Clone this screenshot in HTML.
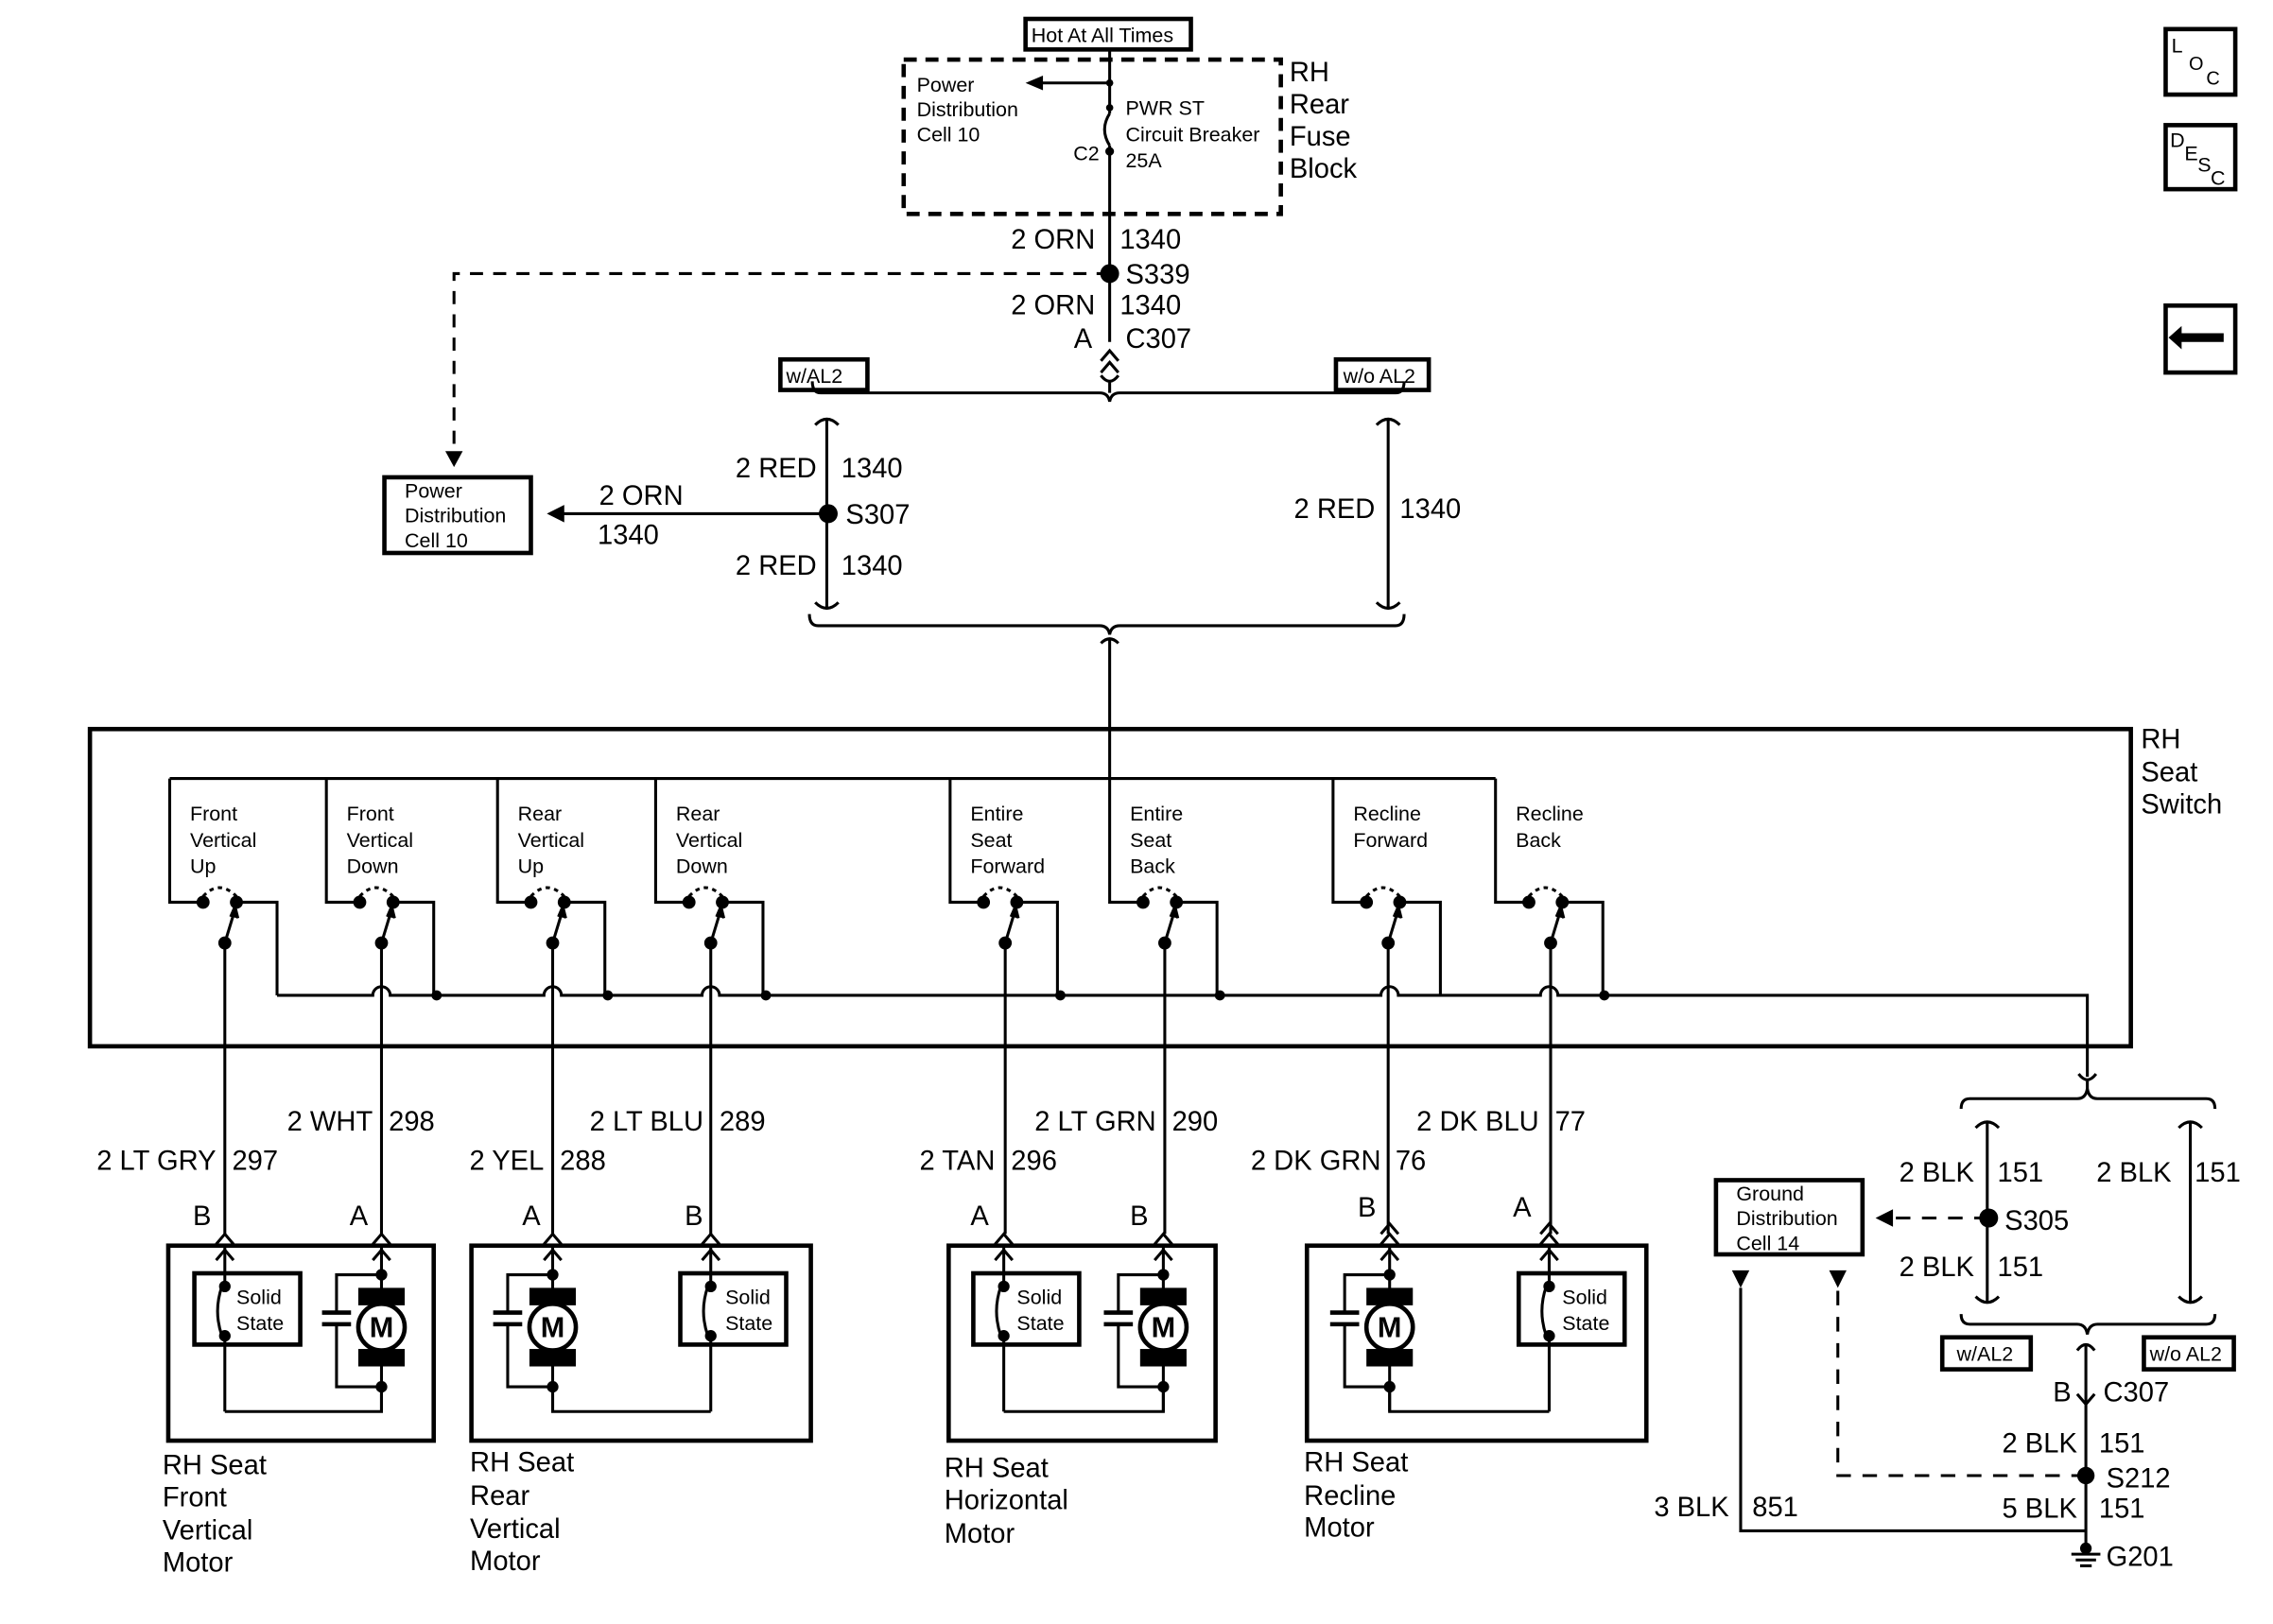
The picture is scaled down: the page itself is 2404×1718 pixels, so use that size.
<!DOCTYPE html>
<html><head><meta charset="utf-8"><style>
html,body{margin:0;padding:0;background:#fff}
svg{display:block}
text{font-family:"Liberation Sans",Arial,sans-serif;fill:#000}
.b{font-size:19px}.s{font-size:14px}
</style></head><body>
<svg width="2404" height="1718" viewBox="0 0 1567 1116" preserveAspectRatio="none" xmlns="http://www.w3.org/2000/svg">
<defs>
<g id="sw" fill="none" stroke="#000" stroke-width="2">
 <path d="M0 535V620H23"/>
 <path d="M23 616Q34 604 46 616" stroke-dasharray="3 3"/>
 <path d="M46 620H74V684"/>
 <path d="M38 648L45 625"/>
 <path d="M38 648V848"/>
 <circle cx="23" cy="620" r="3.5" fill="#000"/>
 <circle cx="46" cy="620" r="3.5" fill="#000"/>
 <circle cx="38" cy="648" r="3.5" fill="#000"/>
 <path d="M42 630L45 623L47 631" fill="#000"/>
</g>
<g id="ss" fill="none" stroke="#000" stroke-width="2">
 <rect x="-21" y="875" width="73" height="49" stroke-width="3"/>
 <path d="M0 856V884M0 918V970"/>
 <path d="M-2 884Q-8 901 -2 918"/>
 <circle cx="0" cy="884" r="3" fill="#000"/><circle cx="0" cy="918" r="3" fill="#000"/>
 <path d="M-6 866L0 859L6 866"/>
</g>
<g id="mo" fill="none" stroke="#000" stroke-width="2">
 <path d="M0 856V886M0 938V970"/>
 <path d="M0 876H-31V902M-31 910V953H0"/>
 <path d="M-41 902H-21M-41 910H-21" stroke-width="3"/>
 <rect x="-15" y="886" width="30" height="10" fill="#000"/>
 <rect x="-15" y="928" width="30" height="10" fill="#000"/>
 <circle cx="0" cy="912" r="16" fill="#fff" stroke-width="3"/>
 <circle cx="0" cy="876" r="3" fill="#000"/><circle cx="0" cy="953" r="3" fill="#000"/>
 <path d="M-6 866L0 859L6 866"/>
 <text x="0" y="919" text-anchor="middle" font-size="20" font-weight="bold" stroke="none">M</text>
</g>
<path id="ch" d="M-6 862L0 855L6 862" fill="none" stroke="#000" stroke-width="2"/>
</defs>

<g fill="none" stroke="#000" stroke-width="2">
 <rect x="707" y="13" width="114" height="21" stroke-width="3"/>
 <rect x="623" y="41" width="260" height="106" stroke-width="3" stroke-dasharray="9 6"/>
 <path d="M765 34V78M765 100V235"/>
 <path d="M765 78Q758 89 765 100"/>
 <path d="M765 57H718"/>
 <path d="M765 188H313V310" stroke-dasharray="9 7"/>
 <path d="M759 248L765 241L771 248M759 256L765 249L771 256"/>
 <path d="M759 258Q765 266 771 258M765 262V270"/>
 <path d="M560 262Q560 270 566 270H758Q764 270 765 276Q766 270 772 270H962Q968 270 968 262"/>
 <rect x="538" y="247" width="60" height="21" stroke-width="3"/>
 <rect x="921" y="247" width="64" height="21" stroke-width="3"/>
 <path d="M562 292Q570 284 578 292M570 288V418M562 414Q570 422 578 414"/>
 <path d="M949 292Q957 284 965 292M957 288V418M949 414Q957 422 965 414"/>
 <path d="M571 353H385"/>
 <rect x="265" y="328" width="101" height="52" stroke-width="3"/>
 <path d="M558 422Q558 430 564 430H758Q764 430 765 436Q766 430 772 430H962Q968 430 968 422"/>
 <path d="M759 442Q765 436 771 442M765 440V535"/>
 <rect x="62" y="501" width="1407" height="218" stroke-width="3"/>
 <path d="M117 535H1031"/>
 <path d="M191 684H257A6 6 0 0 1 269 684H375A6 6 0 0 1 387 684H484A6 6 0 0 1 496 684H952A6 6 0 0 1 964 684H1062A6 6 0 0 1 1074 684H1439V740"/>
 <path d="M1433 738Q1439 746 1445 738M1439 742V748M1352 762Q1352 755 1358 755H1432Q1438 755 1439 748Q1440 755 1446 755H1521Q1527 755 1527 762"/>
 <path d="M1362 775Q1370 767 1378 775M1370 771V895M1362 891Q1370 899 1378 891"/>
 <path d="M1502 775Q1510 767 1518 775M1510 771V895M1502 891Q1510 899 1518 891"/>
 <path d="M1352 903Q1352 910 1358 910H1432Q1438 910 1439 917Q1440 910 1446 910H1521Q1527 910 1527 903"/>
 <path d="M1432 928Q1438 920 1444 928M1438 924V1068"/>
 <path d="M1432 958L1438 965L1444 958"/>
 <rect x="1339" y="919" width="61" height="22" stroke-width="3"/>
 <rect x="1478" y="919" width="62" height="22" stroke-width="3"/>
 <rect x="1183" y="811" width="101" height="51" stroke-width="3"/>
 <path d="M1371 837H1304" stroke-dasharray="10 8"/>
 <path d="M1438 1014H1267V885" stroke-dasharray="10 8"/>
 <path d="M1200 885V1052H1438"/>
 <path d="M1428 1068H1448M1431 1072H1445M1434 1076H1442" stroke-width="2"/>
 <rect x="116" y="856" width="183" height="134" stroke-width="3"/>
 <rect x="325" y="856" width="234" height="134" stroke-width="3"/>
 <rect x="654" y="856" width="184" height="134" stroke-width="3"/>
 <rect x="901" y="856" width="234" height="134" stroke-width="3"/>
 <path d="M155 970H263V953M381 953V970H490M692 970H802V953M958 953V970H1068"/>
 <rect x="1493" y="20" width="48" height="45" stroke-width="3"/>
 <rect x="1493" y="86" width="48" height="44" stroke-width="3"/>
 <rect x="1493" y="210" width="48" height="46" stroke-width="3"/>
</g>
<g fill="#000">
 <path d="M707 57L719 52V62Z"/>
 <path d="M307 310L319 310L313 321Z"/>
 <path d="M377 353L389 347V359Z"/>
 <path d="M1293 837L1305 831V843Z"/>
 <path d="M1194 873H1206L1200 885Z"/><path d="M1261 873H1273L1267 885Z"/>
 <circle cx="765" cy="57" r="2.5"/><circle cx="765" cy="74" r="2.5"/><circle cx="765" cy="104" r="3"/>
 <circle cx="765" cy="188" r="6.5"/>
 <circle cx="571" cy="353" r="6.5"/>
 <circle cx="1371" cy="837" r="6.5"/><circle cx="1438" cy="1014" r="6"/>
 <circle cx="1438" cy="1064" r="4"/>
 <circle cx="301" cy="684" r="3.5"/><circle cx="419" cy="684" r="3.5"/><circle cx="528" cy="684" r="3.5"/>
 <circle cx="731" cy="684" r="3.5"/><circle cx="841" cy="684" r="3.5"/><circle cx="1106" cy="684" r="3.5"/>
 <path d="M1504 235H1533V229H1504V224L1495 232L1504 240Z"/>
</g>
<use href="#sw" x="117"/><use href="#sw" x="225"/><use href="#sw" x="343"/><use href="#sw" x="452"/>
<use href="#sw" x="655"/><use href="#sw" x="765"/><use href="#sw" x="919"/><use href="#sw" x="1031"/>
<use href="#ch" x="155" y="-7"/><use href="#ch" x="263" y="-7"/><use href="#ch" x="381" y="-7"/><use href="#ch" x="490" y="-7"/>
<use href="#ch" x="692" y="-7"/><use href="#ch" x="802" y="-7"/><use href="#ch" x="958" y="-7"/><use href="#ch" x="1068" y="-7"/>
<use href="#ch" x="958" y="-14"/><use href="#ch" x="1068" y="-14"/>
<use href="#ss" x="155"/><use href="#mo" x="263"/>
<use href="#mo" x="381"/><use href="#ss" x="490"/>
<use href="#ss" x="692"/><use href="#mo" x="802"/>
<use href="#mo" x="958"/><use href="#ss" x="1068"/>

<g class="s">
 <text x="711" y="29">Hot At All Times</text>
 <text x="632" y="63">Power</text><text x="632" y="80">Distribution</text><text x="632" y="97">Cell 10</text>
 <text x="776" y="79">PWR ST</text><text x="776" y="97">Circuit Breaker</text><text x="776" y="115">25A</text>
 <text x="740" y="110">C2</text>
 <text x="542" y="263">w/AL2</text><text x="926" y="263">w/o AL2</text>
 <text x="279" y="342">Power</text><text x="279" y="359">Distribution</text><text x="279" y="376">Cell 10</text>
 <text x="131" y="564">Front</text><text x="131" y="582">Vertical</text><text x="131" y="600">Up</text>
 <text x="239" y="564">Front</text><text x="239" y="582">Vertical</text><text x="239" y="600">Down</text>
 <text x="357" y="564">Rear</text><text x="357" y="582">Vertical</text><text x="357" y="600">Up</text>
 <text x="466" y="564">Rear</text><text x="466" y="582">Vertical</text><text x="466" y="600">Down</text>
 <text x="669" y="564">Entire</text><text x="669" y="582">Seat</text><text x="669" y="600">Forward</text>
 <text x="779" y="564">Entire</text><text x="779" y="582">Seat</text><text x="779" y="600">Back</text>
 <text x="933" y="564">Recline</text><text x="933" y="582">Forward</text>
 <text x="1045" y="564">Recline</text><text x="1045" y="582">Back</text>
 <text x="163" y="896">Solid</text><text x="163" y="914">State</text>
 <text x="500" y="896">Solid</text><text x="500" y="914">State</text>
 <text x="701" y="896">Solid</text><text x="701" y="914">State</text>
 <text x="1077" y="896">Solid</text><text x="1077" y="914">State</text>
 <text x="1197" y="825">Ground</text><text x="1197" y="842">Distribution</text><text x="1197" y="859">Cell 14</text>
 <text x="1349" y="935">w/AL2</text><text x="1482" y="935">w/o AL2</text>
 <text x="1497" y="36">L</text><text x="1509" y="48" font-size="13">O</text><text x="1521" y="58" font-size="13">C</text>
 <text x="1496" y="101">D</text><text x="1506" y="110">E</text><text x="1515" y="118">S</text><text x="1524" y="127">C</text>
</g>
<g class="b">
 <text x="889" y="56">RH</text><text x="889" y="78">Rear</text><text x="889" y="100">Fuse</text><text x="889" y="122">Block</text>
 <text x="755" y="171" text-anchor="end">2 ORN</text><text x="772" y="171">1340</text>
 <text x="776" y="195">S339</text>
 <text x="755" y="216" text-anchor="end">2 ORN</text><text x="772" y="216">1340</text>
 <text x="753" y="239" text-anchor="end">A</text><text x="776" y="239">C307</text>
 <text x="563" y="328" text-anchor="end">2 RED</text><text x="580" y="328">1340</text>
 <text x="583" y="360">S307</text>
 <text x="563" y="395" text-anchor="end">2 RED</text><text x="580" y="395">1340</text>
 <text x="413" y="347">2 ORN</text><text x="412" y="374">1340</text>
 <text x="948" y="356" text-anchor="end">2 RED</text><text x="965" y="356">1340</text>
 <text x="1476" y="514">RH</text><text x="1476" y="537">Seat</text><text x="1476" y="559">Switch</text>
 <text x="149" y="804" text-anchor="end">2 LT GRY</text><text x="160" y="804">297</text>
 <text x="257" y="777" text-anchor="end">2 WHT</text><text x="268" y="777">298</text>
 <text x="375" y="804" text-anchor="end">2 YEL</text><text x="386" y="804">288</text>
 <text x="485" y="777" text-anchor="end">2 LT BLU</text><text x="496" y="777">289</text>
 <text x="686" y="804" text-anchor="end">2 TAN</text><text x="697" y="804">296</text>
 <text x="797" y="777" text-anchor="end">2 LT GRN</text><text x="808" y="777">290</text>
 <text x="952" y="804" text-anchor="end">2 DK GRN</text><text x="962" y="804">76</text>
 <text x="1061" y="777" text-anchor="end">2 DK BLU</text><text x="1072" y="777">77</text>
 <text x="133" y="842">B</text><text x="241" y="842">A</text><text x="360" y="842">A</text><text x="472" y="842">B</text>
 <text x="669" y="842">A</text><text x="779" y="842">B</text><text x="936" y="836">B</text><text x="1043" y="836">A</text>
 <text x="112" y="1013">RH Seat</text><text x="112" y="1035">Front</text><text x="112" y="1058">Vertical</text><text x="112" y="1080">Motor</text>
 <text x="324" y="1011">RH Seat</text><text x="324" y="1034">Rear</text><text x="324" y="1057">Vertical</text><text x="324" y="1079">Motor</text>
 <text x="651" y="1015">RH Seat</text><text x="651" y="1037">Horizontal</text><text x="651" y="1060">Motor</text>
 <text x="899" y="1011">RH Seat</text><text x="899" y="1034">Recline</text><text x="899" y="1056">Motor</text>
 <text x="1361" y="812" text-anchor="end">2 BLK</text><text x="1377" y="812">151</text>
 <text x="1382" y="845">S305</text>
 <text x="1361" y="877" text-anchor="end">2 BLK</text><text x="1377" y="877">151</text>
 <text x="1497" y="812" text-anchor="end">2 BLK</text><text x="1513" y="812">151</text>
 <text x="1428" y="963" text-anchor="end">B</text><text x="1450" y="963">C307</text>
 <text x="1432" y="998" text-anchor="end">2 BLK</text><text x="1447" y="998">151</text>
 <text x="1452" y="1022">S212</text>
 <text x="1432" y="1043" text-anchor="end">5 BLK</text><text x="1447" y="1043">151</text>
 <text x="1192" y="1042" text-anchor="end">3 BLK</text><text x="1208" y="1042">851</text>
 <text x="1452" y="1076">G201</text>
</g>
</svg>
</body></html>
